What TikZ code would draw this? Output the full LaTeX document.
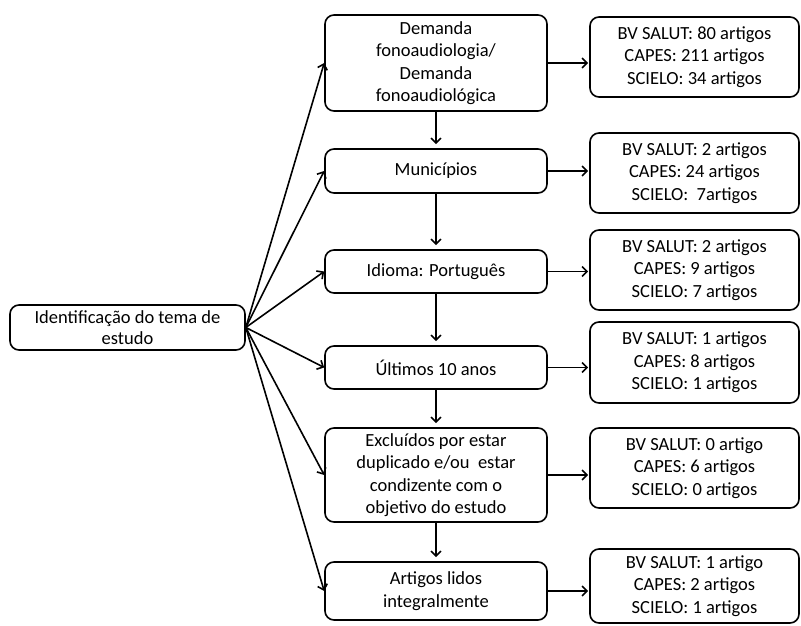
\documentclass[tikz,border=0pt]{standalone}
\usepackage{fontspec}
\setmainfont{Carlito}
\usetikzlibrary{arrows.meta}
\begin{document}
\begin{tikzpicture}[x=1pt,y=1pt,
  box/.style={draw,line width=1.6pt,rounded corners=9pt,align=center,inner sep=1pt,
    font=\fontsize{18.5}{22.5}\selectfont},
  mid/.style={box,minimum width=222pt},
  res/.style={box,minimum width=209pt},
  arr/.style={line width=1.6pt,-{Straight Barb[length=5pt,width=10pt,line width=1.6pt]}}]
\useasboundingbox (0,0) rectangle (801,625);
\node[box,minimum width=235pt,minimum height=45pt] (L) at (127.5,297.5) {Identificação do tema de\\[-2pt]estudo};
\node[mid,minimum height=96pt] (M1) at (436,562) {Demanda\\fonoaudiologia/\\Demanda\\fonoaudiológica};
\node[mid,minimum height=44pt] (M2) at (436,454) {Municípios};
\node[mid,minimum height=43pt] (M3) at (436,353.5) {Idioma: Português};
\node[mid,minimum height=43pt] (M4) at (436,257.5) {Últimos 10 anos};
\node[mid,minimum height=94pt] (M5) at (436,150) {Excluídos por estar\\duplicado e/ou\ \ estar\\condizente com o\\objetivo do estudo};
\node[mid,minimum height=58pt] (M6) at (436,34) {Artigos lidos\\integralmente};
\node[res,minimum height=80pt] (R1) at (694.5,568) {BV SALUT: 80 artigos\\CAPES: 211 artigos\\SCIELO: 34 artigos};
\node[res,minimum height=80pt] (R2) at (694.5,452) {BV SALUT: 2 artigos\\CAPES: 24 artigos\\SCIELO:\ \ 7artigos};
\node[res,minimum height=80pt] (R3) at (694.5,355) {BV SALUT: 2 artigos\\CAPES: 9 artigos\\SCIELO: 7 artigos};
\node[res,minimum height=81pt] (R4) at (694.5,262.5) {BV SALUT: 1 artigos\\CAPES: 8 artigos\\SCIELO: 1 artigos};
\node[res,minimum height=80pt] (R5) at (694.5,157) {BV SALUT: 0 artigo\\CAPES: 6 artigos\\SCIELO: 0 artigos};
\node[res,minimum height=74pt] (R6) at (694.5,39) {BV SALUT: 1 artigo\\CAPES: 2 artigos\\SCIELO: 1 artigos};
\foreach \m in {M1,M2,M3,M4,M5,M6} \draw[arr] (L.east) -- (\m.west);
\foreach \a/\b in {M1/M2,M2/M3,M3/M4,M4/M5,M5/M6} \draw[arr,shorten >=4pt] (\a.south) -- (\b.north);
\foreach \m/\r in {M1/R1,M2/R2,M3/R3,M4/R4,M5/R5,M6/R6} \draw[arr,shorten >=1pt] (\m.east) -- (\m.east -| \r.west);
\end{tikzpicture}
\end{document}
